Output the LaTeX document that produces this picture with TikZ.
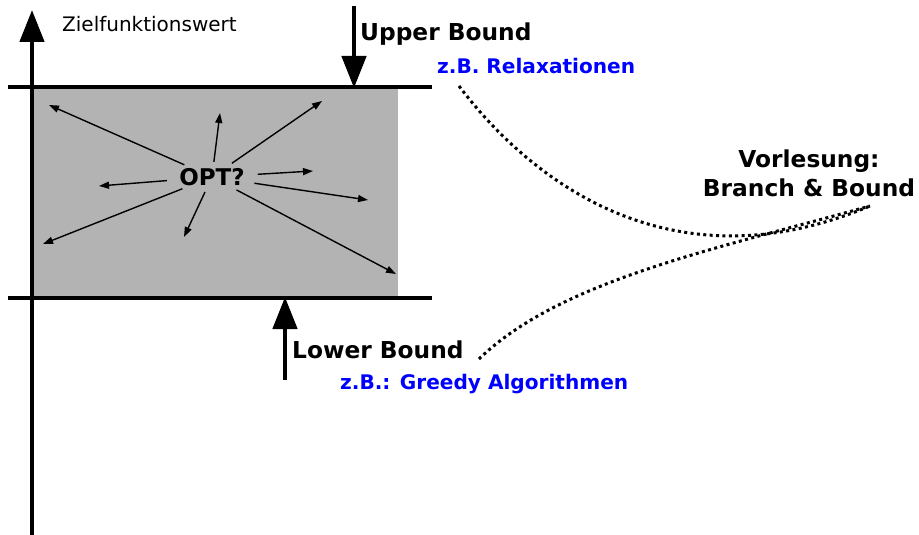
\documentclass[tikz,border=0pt]{standalone}
\usepackage{fontspec}
\setmainfont{DejaVu Sans}
\usetikzlibrary{arrows.meta,shapes.geometric}
\definecolor{boxgray}{RGB}{179,179,179}
\definecolor{zbblue}{RGB}{0,0,255}
\tikzset{
  bigarrow/.style={line width=4.5pt,-{Triangle[length=32pt,width=24pt]}},
  boundline/.style={line width=4.8pt},
  optarrow/.style={line width=1.4pt,-{Triangle[length=10pt,width=7pt]}},
  dotcurve/.style={line width=3pt,dash pattern=on 3pt off 3.4pt},
  blacklabel/.style={font=\bfseries\fontsize{23.3}{29}\selectfont,inner sep=0pt},
  bluelabel/.style={font=\bfseries\fontsize{20.1}{24}\selectfont,text=zbblue,inner sep=0pt},
}
\begin{document}
\begin{tikzpicture}[x=1pt,y=-1pt]
\useasboundingbox (0,0) rectangle (919,535);
% gray region
\fill[boxgray] (32,87) rectangle (398,298);
% bounds
\coordinate (tl) at (8,87);
\coordinate (tr) at (432,87);
\coordinate (bl) at (8,298);
\coordinate (br) at (432,298);
\draw[boundline] (tl) -- (tr);
\draw[boundline] (bl) -- (br);
% axis
\coordinate (axb) at (32,535);
\coordinate (axt) at (32,10);
\draw[bigarrow] (axb) -- (axt);
\node[anchor=base west,inner sep=0pt,font=\fontsize{20}{24}\selectfont] (zfw) at (62,32) {Zielfunktionswert};
% upper bound arrow
\coordinate (ubs) at (354,6);
\coordinate (ube) at (354,88);
\draw[bigarrow] (ubs) -- (ube);
\node[blacklabel,anchor=base west] (ub) at (360,41) {Upper Bound};
\node[bluelabel,anchor=base west] (relax) at (437,74) {z.B. Relaxationen};
% lower bound arrow
\coordinate (lbs) at (285,380);
\coordinate (lbe) at (285,297);
\draw[bigarrow] (lbs) -- (lbe);
\node[blacklabel,anchor=base west] (lb) at (292,358) {Lower Bound};
\node[bluelabel,anchor=base west] (greedy) at (340,389) {z.B.: Greedy Algorithmen};
% lecture label
\node[blacklabel,align=center,anchor=base] (vl) at (809,196) {Vorlesung:\\Branch \& Bound};
% dotted curves
\coordinate (c1) at (459,86);
\coordinate (c2) at (479,359);
\coordinate (c3) at (870,206);
\draw[dotcurve] (c1) .. controls (530,180) and (670,290) .. (c3);
\draw[dotcurve] (c2) .. controls (560,280) and (720,248) .. (c3);
% OPT
\node[ellipse,inner sep=0pt,minimum width=86pt,minimum height=30pt,font=\bfseries\fontsize{23}{28}\selectfont] (opt) at (212,177) {OPT?};
\coordinate (e1) at (49,105);
\coordinate (e2) at (220,113);
\coordinate (e3) at (322,101);
\coordinate (e4) at (313,171);
\coordinate (e5) at (368,200);
\coordinate (e6) at (396,274);
\coordinate (e7) at (184,237);
\coordinate (e8) at (43,244);
\coordinate (e9) at (99,186);
\foreach \e in {e1,e2,e3,e4,e5,e6,e7,e8,e9}
  \draw[optarrow] (opt) -- (\e);
\end{tikzpicture}
\end{document}
